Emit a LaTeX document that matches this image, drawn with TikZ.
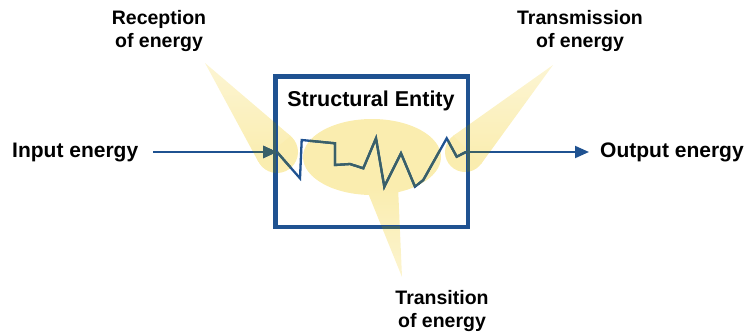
\documentclass[tikz,border=0pt]{standalone}
\usepackage{fontspec}
\setmainfont{Liberation Sans}
\usetikzlibrary{arrows.meta}
\definecolor{eblue}{RGB}{31,82,145}
\definecolor{edark}{RGB}{58,96,104}
\definecolor{hlyel}{RGB}{250,237,175}
\newcommand\energylines[1]{%
  \draw[flow, draw=#1, fill=#1] (inA) -- (zin);
  \draw[flow, draw=#1, fill=#1] (zout) -- (outA);
  \draw[draw=#1, line width=3pt] (box.north west) rectangle (box.south east);
  \draw[zig, draw=#1] (zin) -- (300,178.3) -- (301.7,140) -- (335,143.3) -- (335,165) -- (350,164)
    -- (363.3,168.3) -- (376,138.3) -- (384.3,186.7) -- (401,153.3) -- (415,186.7)
    -- (423.3,180) -- (446.7,138.3) -- (456.7,156.7) -- (zout);}
\begin{document}
\begin{tikzpicture}[x=1pt,y=-1pt,
  lbl/.style={font=\bfseries\fontsize{19.5}{23}\selectfont, align=center, inner sep=0pt, anchor=base},
  side/.style={font=\bfseries\fontsize{21}{25}\selectfont, inner sep=0pt, anchor=base west},
  flow/.style={line width=2pt, -{Triangle[length=14pt,width=12pt]}},
  entity/.style={draw=eblue, line width=3pt, minimum width=191pt, minimum height=149pt, inner sep=0pt},
  zig/.style={line width=2.3pt, line join=miter},
  hl/.style={fill=hlyel}]
\useasboundingbox (0,0) rectangle (747,335);

% named points
\coordinate (inA) at (153,152);
\coordinate (outA) at (589,152);
\coordinate (zin) at (277,152);
\coordinate (zout) at (466,152);

% highlight callouts (under the lines)
\fill[hl] (zin) circle[radius=21pt];
\shade[top color=hlyel!55, bottom color=hlyel] (205,63) -- (290.6,136) -- (258.5,162) -- cycle;
\fill[hl] (465,152) circle[radius=20pt];
\shade[top color=hlyel!55, bottom color=hlyel] (553,65) -- (481.2,163.8) -- (453.4,135.7) -- cycle;
\fill[hl] (372,157) ellipse[x radius=69pt, y radius=38pt];
\shade[top color=hlyel, bottom color=hlyel!60] (402,277) -- (366,188) -- (398,186) -- cycle;

% structural entity box
\node[entity] (box) at (371.5,151.5) {};
\node[font=\bfseries\fontsize{21.5}{25}\selectfont, inner sep=0pt, anchor=base] (title) at (371,106.5) {Structural Entity};

% lines in blue
\energylines{eblue}

% lines as seen through the highlights
\begin{scope}\clip (zin) circle[radius=21pt]; \energylines{edark}\end{scope}
\begin{scope}\clip (205,63) -- (290.6,136) -- (258.5,162) -- cycle; \energylines{edark}\end{scope}
\begin{scope}\clip (465,152) circle[radius=20pt]; \energylines{edark}\end{scope}
\begin{scope}\clip (553,65) -- (481.2,163.8) -- (453.4,135.7) -- cycle; \energylines{edark}\end{scope}
\begin{scope}\clip (372,157) ellipse[x radius=69pt, y radius=38pt]; \energylines{edark}\end{scope}
\begin{scope}\clip (402,277) -- (366,188) -- (398,186) -- cycle; \energylines{edark}\end{scope}

% labels
\node[side] (inp) at (12,157.5) {Input energy};
\node[side] (outp) at (600,157.5) {Output energy};
\node[lbl] (rec) at (159,47) {Reception\\of energy};
\node[lbl] (tra) at (580,47) {Transmission\\of energy};
\node[lbl] (trn) at (442,327) {Transition\\of energy};
\end{tikzpicture}
\end{document}
